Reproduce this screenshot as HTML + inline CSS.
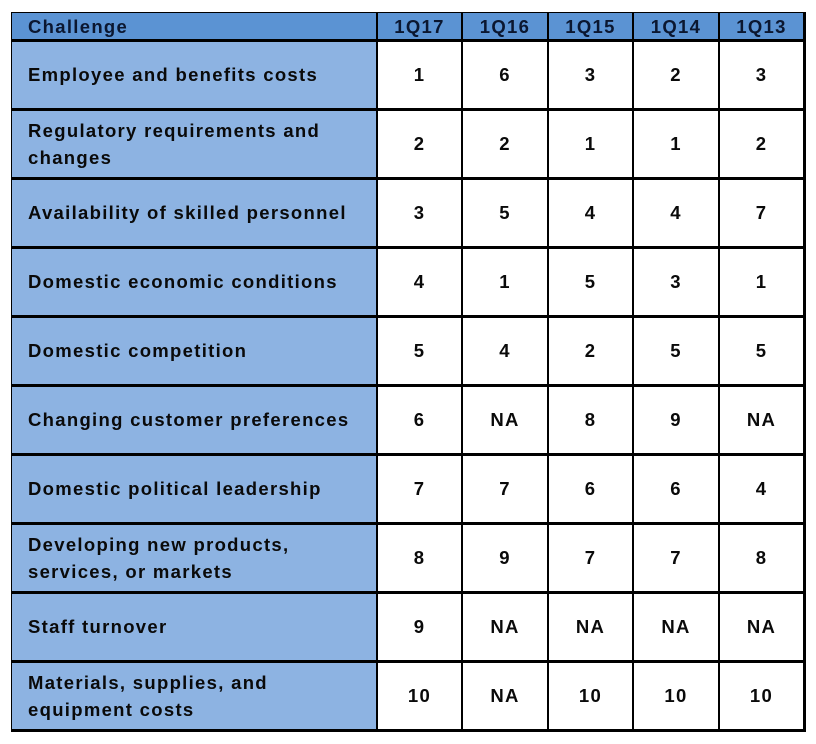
<!DOCTYPE html>
<html><head><meta charset="utf-8">
<style>
body{margin:0;width:816px;height:744px;background:#fff;position:relative;overflow:hidden;font-family:"Liberation Sans",Arial,sans-serif;font-weight:bold;}
.c{position:absolute;box-sizing:border-box;display:flex;align-items:center;font-size:18.5px;letter-spacing:1.3px;color:#0a0a0a;line-height:27px;}
.h{color:#0b1730;}
.l{position:absolute;background:#000;}
</style></head>
<body>
<div id="tbl"></div>
<script>
const headers = ["Challenge","1Q17","1Q16","1Q15","1Q14","1Q13"];
const challenges = ["Employee and benefits costs","Regulatory requirements and changes","Availability of skilled personnel","Domestic economic conditions","Domestic competition","Changing customer preferences","Domestic political leadership","Developing new products, services, or markets","Staff turnover","Materials, supplies, and equipment costs"];
const q1_17 = ["1","2","3","4","5","6","7","8","9","10"];
const q1_16 = ["6","2","5","1","4","NA","7","9","NA","NA"];
const q1_15 = ["3","1","4","5","2","8","6","7","NA","10"];
const q1_14 = ["2","1","4","3","5","9","6","7","NA","10"];
const q1_13 = ["3","2","7","1","5","NA","4","8","NA","10"];
const cols = [q1_17,q1_16,q1_15,q1_14,q1_13];
const xs = [11,377,462,548,633,719,804];
const top0 = 12, headH = 28, rowH = 69;
const t = document.getElementById('tbl');
function cell(x,y,w,h,bg,txt,center,name,head){
  const d=document.createElement('div');
  d.className=head?'c h':'c';
  d.style.left=x+'px';d.style.top=y+'px';d.style.width=w+'px';d.style.height=h+'px';
  d.style.background=bg;
  if(center){d.style.justifyContent='center';}else{d.style.paddingLeft='17px';d.style.paddingRight='14px';}
  d.textContent=txt;
  
  
  t.appendChild(d);
}
headers.forEach((h,i)=>{
  cell(xs[i],top0,xs[i+1]-xs[i],headH,'#5b93d3',h,i>0,'header-'+h.toLowerCase(),true);
});
challenges.forEach((c,r)=>{
  const y=top0+headH+r*rowH;
  cell(xs[0],y,xs[1]-xs[0],rowH,'#8db3e2',c,false,'challenge-label',false);
  cols.forEach((col,j)=>{
    cell(xs[j+1],y,xs[j+2]-xs[j+1],rowH,'#ffffff',col[r],true,'rank-cell',false);
  });
});
function line(x,y,w,h){
  const d=document.createElement('div');
  d.className='l';
  d.style.left=x+'px';d.style.top=y+'px';d.style.width=w+'px';d.style.height=h+'px';
  
  
  t.appendChild(d);
}
const bottom = top0+headH+challenges.length*rowH;
line(11,12,794,1);
for(let r=0;r<=challenges.length;r++){ line(11,top0+headH-1+r*rowH,794,3); }
line(11,12,1,bottom-12+2);
for(let i=1;i<xs.length;i++){ line(xs[i]-1,12,i===xs.length-1?3:2,bottom-12+2); }
</script>
</body></html>
